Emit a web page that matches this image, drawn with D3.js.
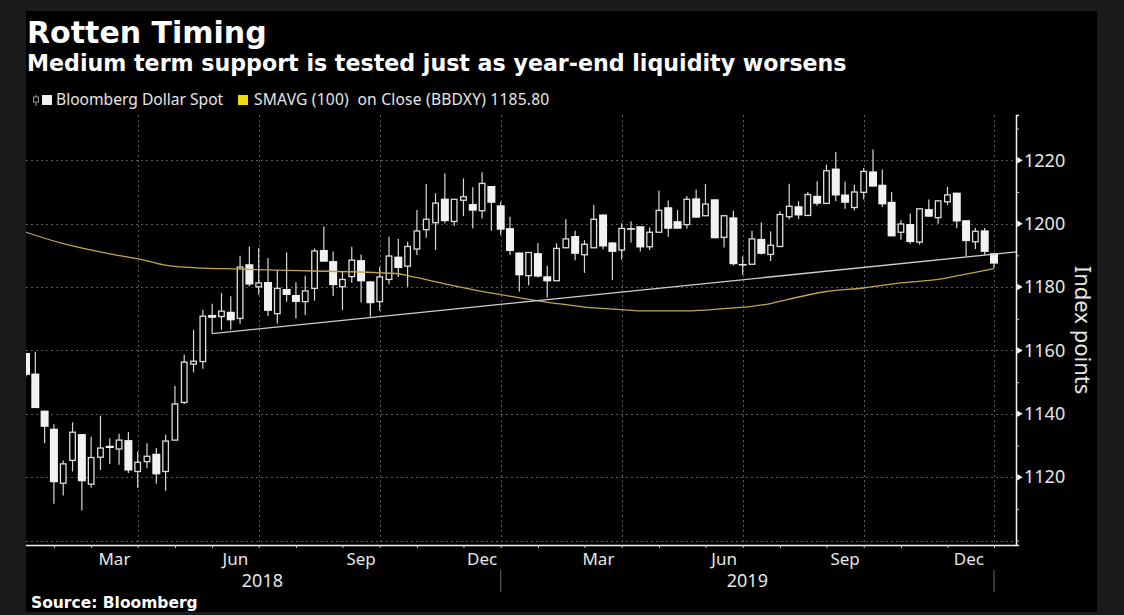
<!DOCTYPE html>
<html>
<head>
<meta charset="utf-8">
<script src="https://cdn.jsdelivr.net/npm/d3@7"></script>
<style>
  html, body { margin: 0; padding: 0; background: #1a1a1a; overflow: hidden; }
  text { fill: #e6e6e6; }
</style>
</head>
<body>
<script>
// Weekly candles (week 0 is the first bar)
var candleOpen = [
  1159.2,1152.7,1141.0,1135.3,1118.1,1125.3,1133.6,1117.8,1126.3,1129.9,
  1128.9,1131.7,1121.8,1124.9,1127.4,1121.8,1131.7,1143.6,1155.7,1156.5,
  1171.2,1170.7,1172.2,1170.1,1187.2,1180.1,1181.6,1171.6,1179.4,1177.5,
  1175.4,1179.6,1191.7,1188.2,1180.1,1183.3,1188.5,1181.8,1175.4,1182.4,
  1189.6,1186.6,1192.0,1198.1,1200.3,1207.9,1200.7,1207.4,1206.2,1204.1,
  1211.9,1205.8,1198.6,1190.9,1183.6,1190.7,1183.4,1182.0,1192.4,1196.1,
  1190.2,1192.4,1202.9,1194.1,1191.7,1198.6,1199.2,1192.7,1197.3,1205.2,
  1200.8,1199.7,1208.0,1202.5,1207.7,1195.7,1202.0,1187.3,1187.2,1195.2,
  1190.3,1192.8,1202.2,1205.5,1202.6,1208.8,1206.4,1217.4,1209.2,1205.1,
  1209.9,1216.5,1212.3,1206.9,1197.3,1199.9,1194.2,1204.6,1201.9,1206.9,
  1209.8,1201.1,1194.3,1197.9,1190.7
];
var candleHigh = [
  1159.2,1159.6,1141.0,1136.7,1125.3,1137.3,1133.6,1132.8,1139.4,1132.3,
  1133.7,1134.3,1128.1,1130.7,1129.2,1133.4,1148.8,1158.6,1166.5,1172.8,
  1174.7,1178.1,1177.1,1189.9,1192.8,1192.3,1189.2,1185.4,1190.9,1181.5,
  1183.6,1192.2,1199.1,1191.2,1184.8,1192.7,1190.3,1181.8,1186.4,1195.9,
  1195.2,1194.3,1204.3,1212.5,1209.6,1215.9,1207.7,1214.3,1211.5,1216.2,
  1211.9,1206.9,1202.2,1190.9,1190.9,1193.8,1186.7,1193.8,1201.4,1197.8,
  1194.8,1205.9,1202.9,1194.1,1200.1,1200.8,1199.2,1198.8,1210.4,1207.3,
  1204.3,1208.7,1210.8,1212.5,1207.7,1202.5,1204.1,1189.6,1197.8,1200.4,
  1197.5,1203.9,1212.6,1207.1,1210.0,1213.4,1218.6,1222.6,1213.2,1212.3,
  1217.6,1223.4,1217.1,1210.0,1201.1,1203.2,1204.7,1207.6,1207.2,1211.6,
  1209.8,1201.1,1198.6,1198.6,1190.7
];
var candleLow = [
  1151.8,1141.8,1130.7,1111.6,1114.2,1121.8,1109.5,1116.7,1122.3,1124.2,
  1123.9,1121.3,1116.7,1122.8,1117.9,1115.7,1131.7,1143.1,1153.1,1154.2,
  1165.3,1166.5,1166.5,1168.4,1180.2,1177.6,1170.9,1168.5,1175.4,1170.1,
  1171.2,1175.7,1188.0,1177.2,1172.7,1181.4,1175.1,1170.6,1172.5,1180.9,
  1183.2,1180.1,1190.1,1195.6,1191.7,1200.1,1199.3,1202.4,1198.5,1201.6,
  1197.8,1196.4,1190.1,1178.5,1180.6,1183.0,1176.7,1182.0,1192.4,1188.5,
  1184.5,1192.4,1191.9,1182.2,1188.7,1194.1,1191.2,1191.7,1197.3,1195.9,
  1198.4,1198.4,1201.9,1202.5,1195.4,1192.5,1186.8,1183.8,1187.2,1190.3,
  1188.2,1192.8,1201.3,1201.5,1202.6,1205.7,1206.4,1207.1,1204.7,1204.2,
  1207.6,1211.7,1205.3,1196.0,1194.9,1193.7,1193.4,1202.2,1200.0,1205.9,
  1198.6,1189.7,1192.0,1190.2,1186.0
];
var candleClose = [
  1152.3,1141.8,1135.9,1118.4,1124.2,1134.2,1118.7,1126.2,1129.2,1129.2,
  1131.7,1122.1,1124.7,1126.6,1120.9,1131.4,1143.1,1156.3,1156.6,1170.8,
  1170.3,1172.4,1169.5,1186.3,1180.8,1181.3,1172.5,1179.6,1177.5,1175.3,
  1178.8,1191.4,1188.0,1180.6,1182.4,1188.5,1181.8,1174.9,1183.2,1189.8,
  1186.0,1192.8,1197.7,1201.4,1206.5,1200.8,1207.7,1208.5,1204.1,1212.7,
  1206.6,1198.1,1191.4,1183.7,1190.9,1183.3,1181.8,1192.2,1195.2,1190.5,
  1193.5,1201.4,1192.8,1191.1,1198.5,1198.1,1192.5,1197.3,1204.2,1198.4,
  1198.4,1207.7,1201.9,1206.2,1195.4,1202.5,1187.2,1186.8,1195.2,1190.5,
  1193.2,1202.9,1205.5,1202.6,1209.2,1206.3,1216.7,1208.9,1206.6,1210.0,
  1216.5,1211.7,1206.1,1196.0,1199.9,1194.2,1204.7,1202.2,1207.2,1209.1,
  1200.7,1194.5,1197.6,1191.1,1187.4
];

// 100 week moving average, sampled along the yellow line
var smaWeek = [0,4,9,13,15,16,19,23,26,38,40,41,46,48,51,54,57,60,64,66,71,75,78,80,82,86,90,94,98,101,104];
var smaValue = [1197.3,1193.7,1190.5,1188.3,1186.9,1186.5,1186.0,1185.7,1185.4,1184.5,1184.2,1183.6,1180.4,1179.2,1177.6,1176.1,1174.8,1173.7,1172.9,1172.5,1172.5,1173.2,1173.9,1174.8,1176.2,1178.6,1179.7,1181.3,1182.4,1184.1,1185.8];

// support trendline
var trendWeek = [20, 106.4];
var trendValue = [1165.3, 1191.1];

var priceTicks = [1120, 1140, 1160, 1180, 1200, 1220];
var minorPriceTicks = [1100, 1110, 1130, 1150, 1170, 1190, 1210, 1230];
var monthEndWeeks = [3,7,12,16,20,25,29,34,38,42,47,51,55,60,64,68,73,77,81,86,90,94,99,104];
var quarterEndWeeks = [12,25,38,51,64,77,90,104];
var quarterLabels = ["Mar","Jun","Sep","Dec","Mar","Jun","Sep","Dec"];
var quarterLabelWeeks = [9.5,22.5,36,49,61.5,75,88,101.3];
var yearLabels = ["2018","2019"];
var yearLabelWeeks = [25.4,77.5];
var yearEndWeeks = [51,104];

var svgWidth = 1124;
var svgHeight = 615;
var plot = { left: 26, right: 1016, top: 115, bottom: 545 };
var lastBarX = 994;

var svg = d3.select("body")
  .append("svg")
  .attr("width", svgWidth)
  .attr("height", svgHeight)
  .style("display", "block");

svg.append("rect")
  .attr("x", 26)
  .attr("y", 11)
  .attr("width", 1071)
  .attr("height", 601)
  .attr("fill", "#000");

var xScale = d3.scaleLinear().domain([0, 104]).range([plot.left, lastBarX]);
var yScale = d3.scaleLinear().domain([1098.6, 1234.3]).range([plot.bottom, plot.top]);

svg.append("clipPath")
  .attr("id", "plotClip")
  .append("rect")
  .attr("x", plot.left)
  .attr("y", plot.top)
  .attr("width", plot.right - plot.left)
  .attr("height", plot.bottom - plot.top);

// grid lines
var gridGroup = svg.append("g")
  .attr("stroke", "#5a5a5a")
  .attr("stroke-width", 1)
  .attr("stroke-dasharray", "2,3");

gridGroup.selectAll(".hgrid")
  .data([1100].concat(priceTicks))
  .enter()
  .append("line")
  .attr("x1", plot.left)
  .attr("x2", plot.right)
  .attr("y1", d => Math.round(yScale(d)) + 0.5)
  .attr("y2", d => Math.round(yScale(d)) + 0.5);

gridGroup.selectAll(".vgrid")
  .data(quarterEndWeeks)
  .enter()
  .append("line")
  .attr("x1", d => Math.round(xScale(d)) + 0.5)
  .attr("x2", d => Math.round(xScale(d)) + 0.5)
  .attr("y1", plot.top)
  .attr("y2", plot.bottom);

// candles
var weeks = d3.range(candleOpen.length);
var candleGroup = svg.append("g").attr("clip-path", "url(#plotClip)");

candleGroup.selectAll(".wick")
  .data(weeks)
  .enter()
  .append("line")
  .attr("x1", d => xScale(d))
  .attr("x2", d => xScale(d))
  .attr("y1", d => yScale(candleHigh[d]))
  .attr("y2", d => yScale(candleLow[d]))
  .attr("stroke", "#d8d8d8")
  .attr("stroke-width", 1.2);

candleGroup.selectAll(".body")
  .data(weeks)
  .enter()
  .append("rect")
  .attr("x", d => xScale(d) - (candleClose[d] < candleOpen[d] ? 4 : 2.8))
  .attr("width", d => candleClose[d] < candleOpen[d] ? 8 : 5.6)
  .attr("y", d => yScale(Math.max(candleOpen[d], candleClose[d])))
  .attr("height", d => Math.abs(yScale(candleOpen[d]) - yScale(candleClose[d])))
  .attr("fill", d => candleClose[d] < candleOpen[d] ? "#f2f2f2" : "#000")
  .attr("stroke", d => candleClose[d] < candleOpen[d] ? "none" : "#dcdcdc")
  .attr("stroke-width", 1.3);

// moving average and trendline
var smaLine = d3.line()
  .x(d => xScale(smaWeek[d]))
  .y(d => yScale(smaValue[d]))
  .curve(d3.curveMonotoneX);

svg.append("path")
  .attr("d", smaLine(d3.range(smaWeek.length)))
  .attr("fill", "none")
  .attr("stroke", "#c2a54e")
  .attr("stroke-width", 1.3);

var trendLine = d3.line()
  .x(d => xScale(trendWeek[d]))
  .y(d => yScale(trendValue[d]));

svg.append("path")
  .attr("d", trendLine(d3.range(trendWeek.length)))
  .attr("fill", "none")
  .attr("stroke", "#cfcfcf")
  .attr("stroke-width", 1.3);

// y axis
var yAxis = d3.axisRight(yScale)
  .tickValues(minorPriceTicks)
  .tickSize(3)
  .tickFormat("");

var yAxisGroup = svg.append("g")
  .attr("transform", `translate(${plot.right}, 0)`)
  .call(yAxis);
yAxisGroup.select(".domain").attr("stroke", "#f2f2f2").attr("stroke-width", 1.5);
yAxisGroup.selectAll(".tick line").attr("stroke", "#cfcfcf");

var yLabelAxis = d3.axisRight(yScale)
  .tickValues(priceTicks)
  .tickSize(0)
  .tickPadding(8)
  .tickFormat(d3.format("d"));

var yLabelGroup = svg.append("g")
  .attr("transform", `translate(${plot.right}, 0)`)
  .call(yLabelAxis);
yLabelGroup.select(".domain").remove();
yLabelGroup.selectAll("text")
  .style("font-family", "'Noto Sans', sans-serif")
  .style("font-size", "18px")
  .style("fill", "#e6e6e6");

// little triangles on the labelled ticks
svg.selectAll(".marker")
  .data(priceTicks)
  .enter()
  .append("path")
  .attr("d", d3.symbol().type(d3.symbolTriangle).size(18))
  .attr("transform", d => `translate(${plot.right + 3}, ${yScale(d)}) rotate(90)`)
  .attr("fill", "#f2f2f2");

svg.append("text")
  .attr("transform", `translate(1075, 330) rotate(90)`)
  .attr("text-anchor", "middle")
  .style("font-family", "'Noto Sans', sans-serif")
  .style("font-size", "22px")
  .text("Index points");

// x axis
var xAxis = d3.axisBottom(xScale)
  .tickValues(monthEndWeeks)
  .tickSize(3)
  .tickFormat("");

var xAxisGroup = svg.append("g")
  .attr("transform", `translate(0, ${plot.bottom})`)
  .call(xAxis);
xAxisGroup.select(".domain")
  .attr("d", `M${plot.left},0.5H${plot.right}`)
  .attr("stroke", "#f2f2f2")
  .attr("stroke-width", 1.5);
xAxisGroup.selectAll(".tick line").attr("stroke", "#cfcfcf");

svg.selectAll(".quarter")
  .data(quarterLabels)
  .enter()
  .append("text")
  .attr("x", (d, i) => xScale(quarterLabelWeeks[i]))
  .attr("y", 565)
  .attr("text-anchor", "middle")
  .style("font-family", "'Noto Sans', sans-serif")
  .style("font-size", "17px")
  .text(d => d);

svg.selectAll(".year")
  .data(yearLabels)
  .enter()
  .append("text")
  .attr("x", (d, i) => xScale(yearLabelWeeks[i]))
  .attr("y", 587)
  .attr("text-anchor", "middle")
  .style("font-family", "'Noto Sans', sans-serif")
  .style("font-size", "18px")
  .text(d => d);

svg.selectAll(".yearEnd")
  .data(yearEndWeeks)
  .enter()
  .append("line")
  .attr("x1", d => xScale(d))
  .attr("x2", d => xScale(d))
  .attr("y1", 570)
  .attr("y2", 592)
  .attr("stroke", "#666");

// title block
svg.append("text")
  .attr("x", 27)
  .attr("y", 43)
  .style("font-family", "'DejaVu Sans', sans-serif")
  .style("font-weight", "bold")
  .style("font-size", "30px")
  .style("fill", "#fff")
  .text("Rotten Timing");

svg.append("text")
  .attr("x", 27)
  .attr("y", 71)
  .style("font-family", "'DejaVu Sans', sans-serif")
  .style("font-weight", "bold")
  .style("font-size", "22.15px")
  .style("fill", "#fff")
  .text("Medium term support is tested just as year-end liquidity worsens");

svg.append("text")
  .attr("x", 31)
  .attr("y", 608)
  .style("font-family", "'DejaVu Sans', sans-serif")
  .style("font-weight", "bold")
  .style("font-size", "15.5px")
  .style("fill", "#fff")
  .text("Source: Bloomberg");

// legend
var legend = svg.append("g");
legend.append("line")
  .attr("x1", 36).attr("x2", 36).attr("y1", 95).attr("y2", 106)
  .attr("stroke", "#999");
legend.append("rect")
  .attr("x", 33.5).attr("y", 97).attr("width", 5).attr("height", 5)
  .attr("fill", "#000").attr("stroke", "#999");
legend.append("rect")
  .attr("x", 42).attr("y", 95).attr("width", 10).attr("height", 10)
  .attr("fill", "#f2f2f2");
legend.append("text")
  .attr("x", 56).attr("y", 105)
  .style("font-family", "'Noto Sans', sans-serif")
  .style("font-size", "15.6px")
  .text("Bloomberg Dollar Spot");
legend.append("rect")
  .attr("x", 238).attr("y", 95).attr("width", 10).attr("height", 10)
  .attr("fill", "#f4d90f");
legend.append("text")
  .attr("x", 254).attr("y", 105)
  .style("font-family", "'Noto Sans', sans-serif")
  .style("font-size", "15.6px")
  .style("letter-spacing", "0.2px")
  .style("white-space", "pre")
  .text("SMAVG (100)  on Close (BBDXY) 1185.80");
</script>
</body>
</html>
